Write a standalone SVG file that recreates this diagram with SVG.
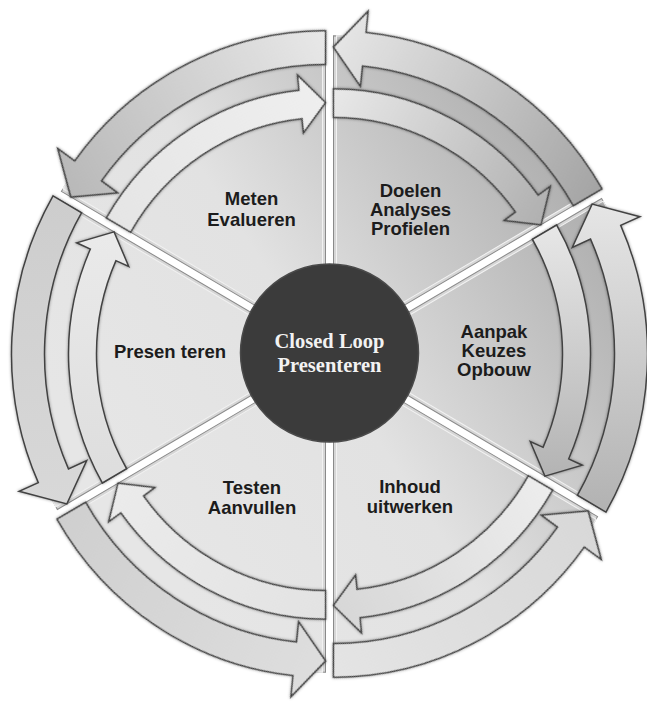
<svg xmlns="http://www.w3.org/2000/svg" xmlns:xlink="http://www.w3.org/1999/xlink" width="647" height="702" viewBox="0 0 647 702">
<style>
.lbl{font-family:"Liberation Sans",Arial,sans-serif;font-weight:bold;font-size:18.5px;fill:#1c1c1c;text-anchor:middle}
.ctr{font-family:"Liberation Serif","Times New Roman",serif;font-weight:bold;font-size:20.5px;fill:#f2f2f2;text-anchor:middle}
.wo{fill:#d6d6d6;stroke:#8a8a8a;stroke-width:1}
.wi{stroke:#f2f2f2;stroke-width:1}
.arr{stroke:#424242;stroke-width:1.5;stroke-linejoin:miter}
</style>
<defs>
<filter id="sh" x="-20%" y="-20%" width="140%" height="140%"><feDropShadow dx="0" dy="0" stdDeviation="1.5" flood-color="#000" flood-opacity="0.4"/></filter>
<path id="wOut" d="M0,0 L264.14,152.5 A305,305 0 0 0 264.14,-152.5 Z"/>
<path id="wIn" d="M6,0 L265.63,149.9 A305,305 0 0 0 265.63,-149.9 Z"/>
<path id="aOut" d="M268.47,155 L239.89,138.5 A277,277 0 0 0 253.05,-112.67 L234.78,-104.53 L254.61,-147 L302.38,-134.63 L283.2,-126.09 A310,310 0 0 1 268.47,155 Z"/>
<path id="aIn" d="M219.1,-126.5 L194.86,-112.5 A225,225 0 0 1 205.55,91.52 L192.76,85.82 L207.41,119.75 L244.83,109.01 L231.13,102.9 A253,253 0 0 0 219.1,-126.5 Z"/>
<linearGradient id="wg" gradientUnits="userSpaceOnUse" x1="-200" y1="150" x2="250" y2="-150">
<stop offset="0" stop-color="#e6e6e6"/><stop offset="0.45" stop-color="#e2e2e2"/><stop offset="1" stop-color="#b0b0b0"/>
</linearGradient>
<linearGradient id="wg1" xlink:href="#wg" gradientUnits="userSpaceOnUse" x1="-200" y1="150" x2="250" y2="-150" gradientTransform="translate(-8,0) rotate(60)"/>
<linearGradient id="wg2" xlink:href="#wg" gradientUnits="userSpaceOnUse" x1="-200" y1="150" x2="250" y2="-150" gradientTransform="translate(-8,0) rotate(0)"/>
<linearGradient id="wg3" xlink:href="#wg" gradientUnits="userSpaceOnUse" x1="-200" y1="150" x2="250" y2="-150" gradientTransform="translate(-8,0) rotate(-60)"/>
<linearGradient id="wg4" xlink:href="#wg" gradientUnits="userSpaceOnUse" x1="-200" y1="150" x2="250" y2="-150" gradientTransform="translate(-8,0) rotate(-120)"/>
<linearGradient id="wg5" xlink:href="#wg" gradientUnits="userSpaceOnUse" x1="-200" y1="150" x2="250" y2="-150" gradientTransform="translate(-8,0) rotate(-180)"/>
<linearGradient id="wg6" xlink:href="#wg" gradientUnits="userSpaceOnUse" x1="-200" y1="150" x2="250" y2="-150" gradientTransform="translate(-8,0) rotate(-240)"/>
<linearGradient id="o1" gradientUnits="userSpaceOnUse" x1="0" y1="-150" x2="0" y2="155"><stop offset="0" stop-color="#e6e6e6"/><stop offset="1" stop-color="#a4a4a4"/></linearGradient>
<linearGradient id="i1" gradientUnits="userSpaceOnUse" x1="0" y1="-150" x2="0" y2="155"><stop offset="0" stop-color="#eeeeee"/><stop offset="1" stop-color="#a8a8a8"/></linearGradient>
<linearGradient id="o2" gradientUnits="userSpaceOnUse" x1="0" y1="-150" x2="0" y2="155"><stop offset="0" stop-color="#e6e6e6"/><stop offset="1" stop-color="#b2b2b2"/></linearGradient>
<linearGradient id="i2" gradientUnits="userSpaceOnUse" x1="0" y1="-150" x2="0" y2="155"><stop offset="0" stop-color="#ececec"/><stop offset="1" stop-color="#acacac"/></linearGradient>
<linearGradient id="o3" gradientUnits="userSpaceOnUse" x1="0" y1="-150" x2="0" y2="155"><stop offset="0" stop-color="#d8d8d8"/><stop offset="1" stop-color="#e4e4e4"/></linearGradient>
<linearGradient id="i3" gradientUnits="userSpaceOnUse" x1="0" y1="-150" x2="0" y2="155"><stop offset="0" stop-color="#efefef"/><stop offset="1" stop-color="#d4d4d4"/></linearGradient>
<linearGradient id="o4" gradientUnits="userSpaceOnUse" x1="0" y1="-150" x2="0" y2="155"><stop offset="0" stop-color="#dedede"/><stop offset="1" stop-color="#cfcfcf"/></linearGradient>
<linearGradient id="i4" gradientUnits="userSpaceOnUse" x1="0" y1="-150" x2="0" y2="155"><stop offset="0" stop-color="#e2e2e2"/><stop offset="1" stop-color="#ececec"/></linearGradient>
<linearGradient id="o5" gradientUnits="userSpaceOnUse" x1="0" y1="-150" x2="0" y2="155"><stop offset="0" stop-color="#d8d8d8"/><stop offset="1" stop-color="#cdcdcd"/></linearGradient>
<linearGradient id="i5" gradientUnits="userSpaceOnUse" x1="0" y1="-150" x2="0" y2="155"><stop offset="0" stop-color="#dcdcdc"/><stop offset="1" stop-color="#ececec"/></linearGradient>
<linearGradient id="o6" gradientUnits="userSpaceOnUse" x1="0" y1="-150" x2="0" y2="155"><stop offset="0" stop-color="#b8b8b8"/><stop offset="1" stop-color="#e8e8e8"/></linearGradient>
<linearGradient id="i6" gradientUnits="userSpaceOnUse" x1="0" y1="-150" x2="0" y2="155"><stop offset="0" stop-color="#e4e4e4"/><stop offset="1" stop-color="#f0f0f0"/></linearGradient>
</defs>
<rect width="647" height="702" fill="#ffffff"/>

<g id="node-doelen">
<g transform="translate(329.5,354) scale(1,1.02) rotate(-60) translate(8,0)"><use xlink:href="#wOut" class="wo"/><use xlink:href="#wIn" class="wi" fill="url(#wg1)"/></g>
<text class="lbl"><tspan x="410.5" y="197">Doelen</tspan><tspan x="410.5" y="216">Analyses</tspan><tspan x="410.5" y="235">Profielen</tspan></text>
</g>
<g id="node-aanpak">
<g transform="translate(329.5,354) scale(1,1.02) rotate(0) translate(8,0)"><use xlink:href="#wOut" class="wo"/><use xlink:href="#wIn" class="wi" fill="url(#wg2)"/></g>
<text class="lbl"><tspan x="494" y="338">Aanpak</tspan><tspan x="494" y="357">Keuzes</tspan><tspan x="494" y="376">Opbouw</tspan></text>
</g>
<g id="node-inhoud">
<g transform="translate(329.5,354) scale(1,1.02) rotate(60) translate(8,0)"><use xlink:href="#wOut" class="wo"/><use xlink:href="#wIn" class="wi" fill="url(#wg3)"/></g>
<text class="lbl"><tspan x="410" y="493">Inhoud</tspan><tspan x="410" y="513">uitwerken</tspan></text>
</g>
<g id="node-testen">
<g transform="translate(329.5,354) scale(1,1.02) rotate(120) translate(8,0)"><use xlink:href="#wOut" class="wo"/><use xlink:href="#wIn" class="wi" fill="url(#wg4)"/></g>
<text class="lbl"><tspan x="252" y="494">Testen</tspan><tspan x="252" y="514">Aanvullen</tspan></text>
</g>
<g id="node-presenteren">
<g transform="translate(329.5,354) scale(1,1.02) rotate(180) translate(8,0)"><use xlink:href="#wOut" class="wo"/><use xlink:href="#wIn" class="wi" fill="url(#wg5)"/></g>
<text class="lbl" x="170" y="358">Presen teren</text>
</g>
<g id="node-meten">
<g transform="translate(329.5,354) scale(1,1.02) rotate(240) translate(8,0)"><use xlink:href="#wOut" class="wo"/><use xlink:href="#wIn" class="wi" fill="url(#wg6)"/></g>
<text class="lbl"><tspan x="251.5" y="205">Meten</tspan><tspan x="251.5" y="226">Evalueren</tspan></text>
</g>

<g id="connectors">
<g transform="translate(329.5,354) scale(1,1.02) rotate(-60) translate(8,0)"><use xlink:href="#aIn" class="arr" fill="url(#i1)" filter="url(#sh)"/><use xlink:href="#aOut" class="arr" fill="url(#o1)" filter="url(#sh)"/></g>
<g transform="translate(329.5,354) scale(1,1.02) rotate(0) translate(8,0)"><use xlink:href="#aIn" class="arr" fill="url(#i2)" filter="url(#sh)"/><use xlink:href="#aOut" class="arr" fill="url(#o2)" filter="url(#sh)"/></g>
<g transform="translate(329.5,354) scale(1,1.02) rotate(60) translate(8,0)"><use xlink:href="#aIn" class="arr" fill="url(#i3)" filter="url(#sh)"/><use xlink:href="#aOut" class="arr" fill="url(#o3)" filter="url(#sh)"/></g>
<g transform="translate(329.5,354) scale(1,1.02) rotate(120) translate(8,0)"><use xlink:href="#aIn" class="arr" fill="url(#i4)" filter="url(#sh)"/><use xlink:href="#aOut" class="arr" fill="url(#o4)" filter="url(#sh)"/></g>
<g transform="translate(329.5,354) scale(1,1.02) rotate(180) translate(8,0)"><use xlink:href="#aIn" class="arr" fill="url(#i5)" filter="url(#sh)"/><use xlink:href="#aOut" class="arr" fill="url(#o5)" filter="url(#sh)"/></g>
<g transform="translate(329.5,354) scale(1,1.02) rotate(240) translate(8,0)"><use xlink:href="#aIn" class="arr" fill="url(#i6)" filter="url(#sh)"/><use xlink:href="#aOut" class="arr" fill="url(#o6)" filter="url(#sh)"/></g>
</g>

<g id="node-center">
<circle cx="329.5" cy="353" r="89" fill="#3b3b3b" stroke="#4a4a4a" stroke-width="1.5"/>
<text class="ctr"><tspan x="329.5" y="348">Closed Loop</tspan><tspan x="329.5" y="372">Presenteren</tspan></text>
</g>
</svg>
